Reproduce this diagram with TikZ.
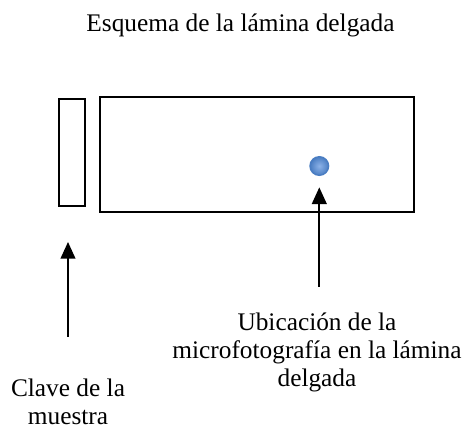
\documentclass[tikz,border=0pt]{standalone}
\usepackage{fontspec}
\setmainfont{Liberation Serif}
\usetikzlibrary{arrows.meta,shadings}

\definecolor{azul}{HTML}{4A7DC2}
\definecolor{azulclaro}{HTML}{8CB2E8}

\tikzset{
  >={Triangle[width=11pt,length=12.5pt]},   % flecha rellena
  caja/.style={draw, line width=1.5pt, inner sep=0pt, anchor=north west},
  texto/.style={font=\fontsize{19}{21}\selectfont, align=center, inner sep=0pt},
  flecha/.style={->, line width=1.5pt}
}

\begin{document}
\begin{tikzpicture}[x=0.75pt,y=-0.75pt]
	\useasboundingbox (0,0) rectangle (471,430);
	% titulo
	\node[texto, anchor=base] (titulo) at (240.5,31.7) {Esquema de la lámina delgada};

	% clave y lamina
	\node[caja, minimum width=19.5pt, minimum height=80.25pt] (clave) at (57.7,98.3) {};
	\node[caja, minimum width=236pt, minimum height=86.25pt] (lamina) at (98.7,95.7) {};
	% punto de la microfotografia
	\node[circle, draw=azul, line width=1pt, inner color=azulclaro, outer color=azul,
		minimum size=14pt, inner sep=0pt] (micro) at (319.3,166) {};

	% etiquetas (base = ultima linea)
	\node[texto, anchor=base] (ubic) at (317,386) {Ubicación de la\\microfotografía en la lámina\\delgada};
	\node[texto, anchor=base] (clavetxt) at (68,424) {Clave de la\\muestra};

	% flechas
	\draw[flecha, shorten <=19pt, shorten >=8.5pt] (ubic.north -| micro) -- (micro);
	\draw[flecha, shorten <=31pt, shorten >=26pt] (clavetxt.north) -- (clavetxt.north |- clave.south);
\end{tikzpicture}
\end{document}
